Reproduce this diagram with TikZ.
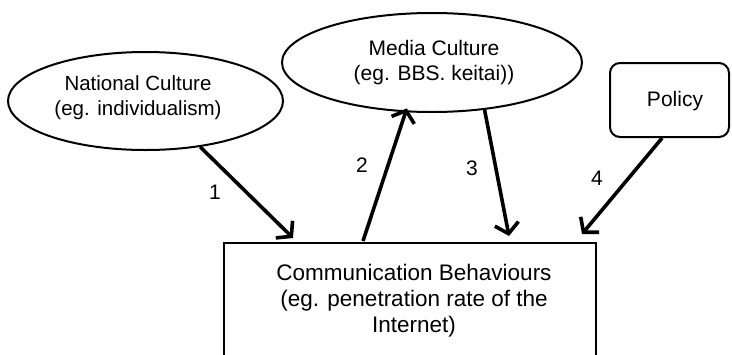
\documentclass[tikz,border=0pt]{standalone}
\usepackage{fontspec}
\setmainfont{Liberation Sans}
\usetikzlibrary{shapes.geometric,arrows.meta}
\begin{document}
\begin{tikzpicture}[x=1pt,y=-1pt,
  txt/.style={font=\fontsize{21}{25}\selectfont, align=center, inner sep=0pt},
  bigtxt/.style={font=\fontsize{22.5}{26}\selectfont, align=center, inner sep=0pt},
  oval/.style={draw, ellipse, line width=2pt, inner sep=0pt},
  conn/.style={line width=3.6pt, -{Straight Barb[length=10pt,width=24pt]}},
  lbl/.style={font=\fontsize{21}{25}\selectfont, inner sep=0pt}]
\useasboundingbox (0,0) rectangle (732,354);
\fill[white] (0,0) rectangle (732,354);
% shapes
\node[oval, minimum width=275pt, minimum height=98pt] (nc) at (145.5,101) {};
\node[txt, font=\fontsize{20.5}{25}\selectfont] at (138,97.5) {National Culture\\(eg. individualism)};
\node[oval, minimum width=300pt, minimum height=99pt] (mc) at (432,62.5) {};
\node[txt] at (434,62.5) {Media Culture\\(eg. BBS. keitai))};
\node[draw, line width=2pt, rounded corners=10pt, minimum width=119pt, minimum height=74pt] (pol) at (669.5,100) {};
\node[txt] at (675,101) {Policy};
% communication box (open at the bottom)
\draw[line width=2.6pt] (224,358) |- (596,243) -- (596,358);
\node[bigtxt] (cb) at (414,301) {Communication Behaviours\\(eg. penetration rate of the\\Internet)};
\coordinate (cb1) at (293,238);
\coordinate (cb2) at (363,241);
\coordinate (cb3) at (509,236);
\coordinate (cb4) at (582,234);
% connectors
\draw[conn] (nc.-40) -- (cb1);
\draw[conn, shorten >=-4pt] (cb2) -- (mc.-118);
\draw[conn] (mc.-42) -- (cb3);
\draw[conn] (pol.-101) -- (cb4);
% labels
\node[lbl] at (215,192) {1};
\node[lbl] at (362,165) {2};
\node[lbl] at (472,168) {3};
\node[lbl] at (597,178) {4};
\end{tikzpicture}
\end{document}
